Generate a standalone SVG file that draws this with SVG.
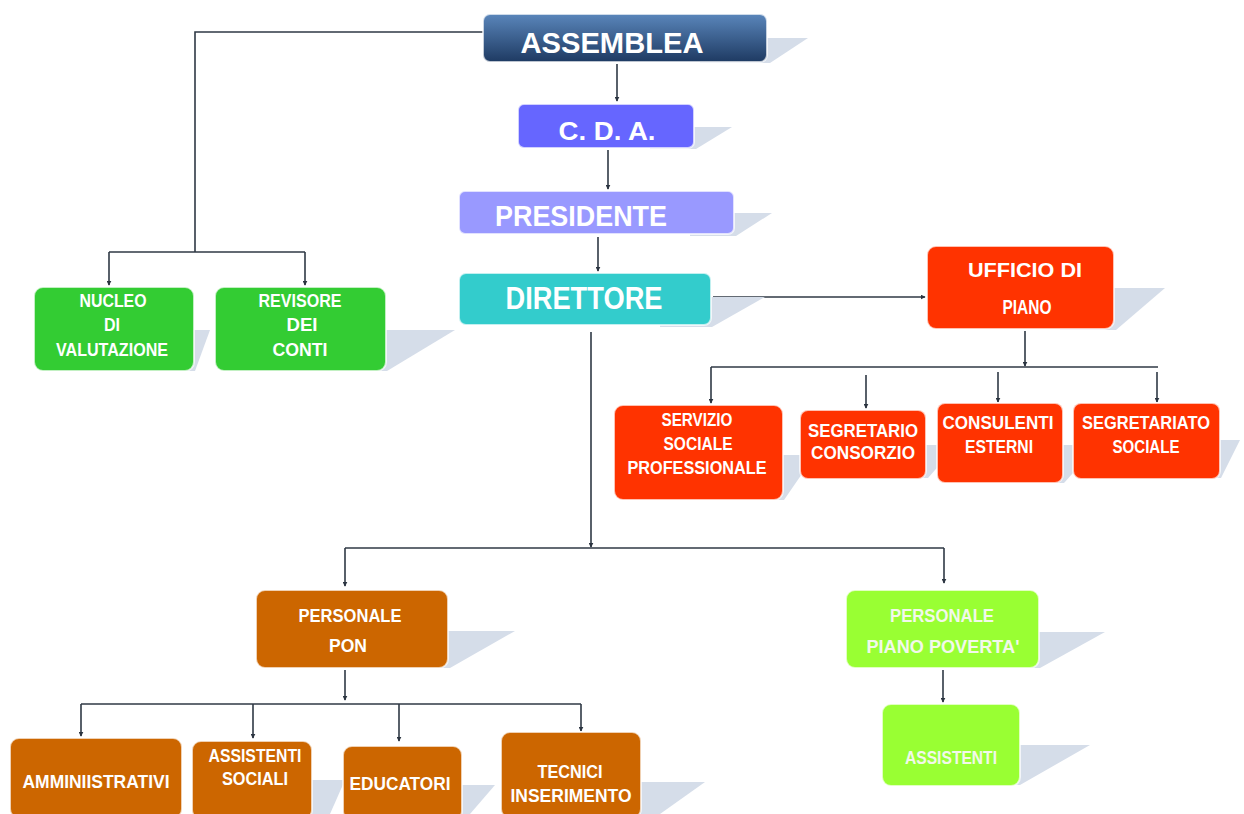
<svg xmlns="http://www.w3.org/2000/svg" width="1244" height="814" viewBox="0 0 1244 814">
<defs>
<linearGradient id="gAss" x1="0" y1="0" x2="0" y2="1">
<stop offset="0" stop-color="#5a86bb"/><stop offset="1" stop-color="#1e3a62"/>
</linearGradient>
<marker id="ah" viewBox="0 0 8 8" refX="7" refY="4" markerWidth="5" markerHeight="5" orient="auto" markerUnits="userSpaceOnUse">
<path d="M0,0 L8,4 L0,8 z" fill="#2b3440"/>
</marker>
</defs>
<style>
.sh{fill:#d5dde9}
.bx{stroke:#ffffff;stroke-opacity:0.7;stroke-width:2}
.t{font-family:"Liberation Sans Narrow","Liberation Sans",Arial,sans-serif;fill:#ffffff;text-anchor:middle;font-weight:bold}
.s{font-size:18px}
.g{fill:#f2f8ea}
.c{fill:none;stroke:#2f3945;stroke-width:1.6}
.a{marker-end:url(#ah)}
</style>
<rect width="1244" height="814" fill="#ffffff"/>

<g id="connectors">
<path class="c" d="M483,32 H195 V252"/>
<path class="c" d="M109,252 H305"/>
<path class="c a" d="M109,252 V285"/>
<path class="c a" d="M305,252 V285"/>
<path class="c a" d="M617,64 V101"/>
<path class="c a" d="M608,150 V189"/>
<path class="c a" d="M598,237 V271"/>
<path class="c a" d="M713,297 H925"/>
<path class="c a" d="M1025,331 V366"/>
<path class="c" d="M711,367 H1158"/>
<path class="c a" d="M711,367 V403"/>
<path class="c a" d="M866,375 V408"/>
<path class="c a" d="M998,372 V402"/>
<path class="c a" d="M1157,372 V402"/>
<path class="c a" d="M591,332 V547"/>
<path class="c" d="M345,548 H944"/>
<path class="c a" d="M345,548 V586"/>
<path class="c a" d="M944,548 V583"/>
<path class="c a" d="M345,670 V700"/>
<path class="c" d="M81,704 H581"/>
<path class="c a" d="M81,704 V736"/>
<path class="c a" d="M253,704 V738"/>
<path class="c a" d="M399,704 V741"/>
<path class="c a" d="M581,704 V731"/>
<path class="c a" d="M943,670 V702"/>
</g>

<g id="assemblea">
<polygon class="sh" points="700,38 808,38 770,63 700,63"/>
<rect class="bx" x="483" y="14" width="284" height="48" rx="7" fill="url(#gAss)"/>
<text class="t" x="612" y="53" font-size="29" textLength="183" lengthAdjust="spacingAndGlyphs">ASSEMBLEA</text>
</g>

<g id="cda">
<polygon class="sh" points="650,127 732,127 696,149 650,149"/>
<rect class="bx" x="518" y="104" width="176" height="44" rx="6" fill="#6666ff"/>
<text class="t" x="607" y="140" font-size="26" textLength="97" lengthAdjust="spacingAndGlyphs">C. D. A.</text>
</g>

<g id="presidente">
<polygon class="sh" points="690,213 772,213 736,236 690,236"/>
<rect class="bx" x="459" y="191" width="275" height="43" rx="6" fill="#9999ff"/>
<text class="t" x="581" y="226" font-size="30" textLength="172" lengthAdjust="spacingAndGlyphs">PRESIDENTE</text>
</g>

<g id="direttore">
<polygon class="sh" points="660,297 765,297 712,327 660,327"/>
<rect class="bx" x="459" y="273" width="252" height="52" rx="7" fill="#33cccc"/>
<text class="t" x="584" y="309" font-size="31" textLength="157" lengthAdjust="spacingAndGlyphs">DIRETTORE</text>
</g>

<g id="ufficio">
<polygon class="sh" points="1060,288 1165,288 1116,330 1060,330"/>
<rect class="bx" x="927" y="246" width="187" height="83" rx="9" fill="#ff3300"/>
<text class="t" x="1025" y="277" font-size="20" textLength="114" lengthAdjust="spacingAndGlyphs">UFFICIO DI</text>
<text class="t" x="1027" y="314" font-size="20" textLength="49" lengthAdjust="spacingAndGlyphs">PIANO</text>
</g>

<g id="servizio">
<polygon class="sh" points="730,455 815,455 784,500 730,500"/>
<rect class="bx" x="614" y="405" width="169" height="95" rx="9" fill="#ff3300"/>
<text class="t s" x="697" y="426" textLength="71" lengthAdjust="spacingAndGlyphs">SERVIZIO</text>
<text class="t s" x="698" y="450" textLength="69" lengthAdjust="spacingAndGlyphs">SOCIALE</text>
<text class="t s" x="697" y="474" textLength="139" lengthAdjust="spacingAndGlyphs">PROFESSIONALE</text>
</g>

<g id="segretario">
<polygon class="sh" points="880,445 957,445 928,478 880,478"/>
<rect class="bx" x="800" y="410" width="126" height="69" rx="8" fill="#ff3300"/>
<text class="t s" x="863" y="437" textLength="110" lengthAdjust="spacingAndGlyphs">SEGRETARIO</text>
<text class="t s" x="863" y="459" textLength="104" lengthAdjust="spacingAndGlyphs">CONSORZIO</text>
</g>

<g id="consulenti">
<polygon class="sh" points="1020,445 1098,445 1064,483 1020,483"/>
<rect class="bx" x="937" y="403" width="126" height="80" rx="8" fill="#ff3300"/>
<text class="t s" x="998" y="429" textLength="111" lengthAdjust="spacingAndGlyphs">CONSULENTI</text>
<text class="t s" x="999" y="453" textLength="68" lengthAdjust="spacingAndGlyphs">ESTERNI</text>
</g>

<g id="segretariato">
<polygon class="sh" points="1180,440 1240,440 1221,478 1180,478"/>
<rect class="bx" x="1073" y="403" width="147" height="76" rx="8" fill="#ff3300"/>
<text class="t s" x="1146" y="429" textLength="128" lengthAdjust="spacingAndGlyphs">SEGRETARIATO</text>
<text class="t s" x="1146" y="453" textLength="67" lengthAdjust="spacingAndGlyphs">SOCIALE</text>
</g>

<g id="nucleo">
<polygon class="sh" points="60,330 210,330 195,371 60,371"/>
<rect class="bx" x="34" y="287" width="160" height="84" rx="9" fill="#33cc33"/>
<text class="t s" x="113" y="307" textLength="67" lengthAdjust="spacingAndGlyphs">NUCLEO</text>
<text class="t s" x="112" y="331" textLength="16" lengthAdjust="spacingAndGlyphs">DI</text>
<text class="t s" x="112" y="356" textLength="112" lengthAdjust="spacingAndGlyphs">VALUTAZIONE</text>
</g>

<g id="revisore">
<polygon class="sh" points="300,330 455,330 387,371 300,371"/>
<rect class="bx" x="215" y="287" width="171" height="84" rx="9" fill="#33cc33"/>
<text class="t s" x="300" y="307" textLength="83" lengthAdjust="spacingAndGlyphs">REVISORE</text>
<text class="t s" x="302" y="331" textLength="31" lengthAdjust="spacingAndGlyphs">DEI</text>
<text class="t s" x="300" y="356" textLength="55" lengthAdjust="spacingAndGlyphs">CONTI</text>
</g>

<g id="personale-pon">
<polygon class="sh" points="400,631 515,631 450,668 400,668"/>
<rect class="bx" x="256" y="590" width="192" height="78" rx="9" fill="#cc6600"/>
<text class="t s" x="350" y="622" textLength="103" lengthAdjust="spacingAndGlyphs">PERSONALE</text>
<text class="t s" x="348" y="652" textLength="38" lengthAdjust="spacingAndGlyphs">PON</text>
</g>

<g id="personale-poverta">
<polygon class="sh" points="990,632 1105,632 1040,668 990,668"/>
<rect class="bx" x="846" y="590" width="193" height="78" rx="9" fill="#99ff33"/>
<text class="t s g" x="942" y="622" textLength="104" lengthAdjust="spacingAndGlyphs">PERSONALE</text>
<text class="t s g" x="943" y="653" textLength="153" lengthAdjust="spacingAndGlyphs">PIANO POVERTA'</text>
</g>

<g id="assistenti">
<polygon class="sh" points="980,745 1090,745 1020,785 980,785"/>
<rect class="bx" x="882" y="704" width="138" height="82" rx="9" fill="#99ff33"/>
<text class="t s g" x="951" y="764" textLength="92" lengthAdjust="spacingAndGlyphs">ASSISTENTI</text>
</g>

<g id="amministrativi">
<rect class="bx" x="10" y="738" width="172" height="80" rx="9" fill="#cc6600"/>
<text class="t s" x="96" y="788" textLength="147" lengthAdjust="spacingAndGlyphs">AMMINIISTRATIVI</text>
</g>

<g id="assistenti-sociali">
<polygon class="sh" points="280,780 345,780 330,814 280,814"/>
<rect class="bx" x="192" y="741" width="120" height="78" rx="9" fill="#cc6600"/>
<text class="t s" x="255" y="762" textLength="93" lengthAdjust="spacingAndGlyphs">ASSISTENTI</text>
<text class="t s" x="255" y="785" textLength="66" lengthAdjust="spacingAndGlyphs">SOCIALI</text>
</g>

<g id="educatori">
<polygon class="sh" points="430,785 495,785 470,814 430,814"/>
<rect class="bx" x="343" y="746" width="119" height="74" rx="9" fill="#cc6600"/>
<text class="t s" x="400" y="790" textLength="101" lengthAdjust="spacingAndGlyphs">EDUCATORI</text>
</g>

<g id="tecnici">
<polygon class="sh" points="600,782 705,782 660,814 600,814"/>
<rect class="bx" x="501" y="732" width="140" height="86" rx="9" fill="#cc6600"/>
<text class="t s" x="570" y="778" textLength="65" lengthAdjust="spacingAndGlyphs">TECNICI</text>
<text class="t s" x="571" y="802" textLength="121" lengthAdjust="spacingAndGlyphs">INSERIMENTO</text>
</g>
</svg>
